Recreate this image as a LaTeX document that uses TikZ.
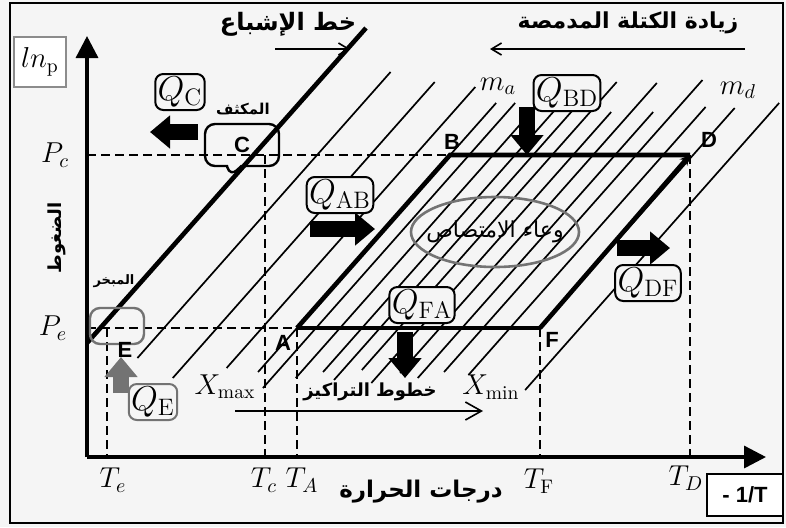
\documentclass[tikz,border=0pt]{standalone}
\usepackage{fontspec}
\setsansfont{Liberation Sans}
\newfontfamily\arabicfont[Script=Arabic]{DejaVu Sans}
\TeXXeTstate=1
\usetikzlibrary{arrows.meta,shapes.callouts}

\begin{document}
\begin{tikzpicture}[x=0.5pt,y=-0.5pt,>=Stealth,
  conc/.style={line width=0.85pt},
  cyc/.style={line width=2.3pt},
  guide/.style={line width=1.2pt,dash pattern=on 4.5pt off 2.5pt},
  ax/.style={line width=1.7pt,-{Triangle[length=11pt,width=11pt]}},
  hint/.style={line width=0.8pt,-{Straight Barb[length=5pt,width=6pt]}},
  fat/.style={line width=8pt,-{Triangle[length=10pt,width=16pt]}},
  qbox/.style={draw,line width=1pt,rounded corners=4pt,fill=black!4,inner sep=1.2pt,minimum height=18pt,font=\fontsize{17}{18}\selectfont},
  pnt/.style={font=\sffamily\bfseries\fontsize{11}{12}\selectfont,inner sep=0pt},
  tlab/.style={font=\fontsize{14}{16}\selectfont,inner sep=0pt},
  arab/.style={inner sep=0pt,font=\arabicfont\bfseries\fontsize{#1}{#1}\selectfont}]
\fill[black!4] (0,0) rectangle (786,527);
\useasboundingbox (0,0) rectangle (786,527);
\draw[line width=1.3pt] (10,3) rectangle (783,523);

\coordinate (O) at (87,457);
\coordinate (Ytop) at (87,36);
\coordinate (Xend) at (766,457);
\coordinate (Pc) at (87,155);
\coordinate (Pe) at (87,328);
\coordinate (Te) at (107,457);
\coordinate (Tc) at (265,457);
\coordinate (A) at (297,328);
\coordinate (B) at (450,155);
\coordinate (D) at (690,155);
\coordinate (F) at (540,328);
\coordinate (S0) at (87,343);
\coordinate (S1) at (366,28);

\foreach \x/\b/\t in {164/358/72, 217/378/82, 262/368/87, 297/372/103, 316/388/103,
  340/378/98, 362/372/100, 380/380/100, 399/370/82, 420/383/112, 440/373/83,
  462/378/112, 483/372/80, 510/375/107, 540/328/108, 580/390/103}
  \draw[conc] ({\x+(328-\b)/1.13},\b) -- ({\x+(328-\t)/1.13},\t);

\draw[cyc] (S0) -- (S1);
\draw[guide] (Pc) -- (B);
\draw[guide] (Pe) -- (A);
\draw[guide] (Te |- Pe) -- (Te);
\draw[guide] (Tc |- Pc) -- (Tc);
\draw[guide] (A) -- (A |- O);
\draw[guide] (F) -- (F |- O);
\draw[guide] (D) -- (D |- O);
\draw[cyc] (A) -- (B) -- (D);
\draw[cyc] (A) -- (F);
\draw[cyc,-{Stealth[length=5pt,width=5pt]}] (F) -- (D);
\draw[ax] (O) -- (Ytop);
\draw[ax] (O) -- (Xend);

\node[inner sep=0pt,font=\arabicfont\fontsize{11}{11}\selectfont] (vessel) at (495,232) {\beginR وعاء الامتصاص\endR};
\draw[black!55,line width=1.3pt] (vessel.center) ellipse [x radius=84, y radius=35];

\node[qbox] (qc) at (180,92) {$Q_{\mathrm{C}}$};
\node[qbox] (qab) at (340,195) {$Q_{\mathrm{AB}}$};
\node[qbox] (qbd) at (567,93) {$Q_{\mathrm{BD}}$};
\node[qbox] (qfa) at (422,305) {$Q_{\mathrm{FA}}$};
\node[qbox] (qdf) at (648,283) {$Q_{\mathrm{DF}}$};
\node[qbox,draw=black!55] (qe) at (153,402) {$Q_{\mathrm{E}}$};
\draw[fat] ([shift={(18,40)}]qc.center) -- ++(-48,0);
\draw[fat] ([shift={(-30,34)}]qab.center) -- ++(65,0);
\draw[fat] ([shift={(-40,14)}]qbd.center) -- ++(0,48);
\draw[fat] ([shift={(-17,27)}]qfa.center) -- ++(0,46);
\draw[fat] ([shift={(-31,-35)}]qdf.center) -- ++(53,0);
\draw[fat,black!55] ([shift={(-32,-9)}]qe.center) -- ++(0,-36);

\node[draw,line width=1.2pt,rectangle callout,rounded corners=5pt,callout absolute pointer={(230,177)},minimum width=37pt,minimum height=21pt,pnt] (cbox) at (242,145) {C};
\node[draw=black!55,line width=1.2pt,rounded corners=5pt,minimum width=27pt,minimum height=18pt] (ebox) at (117,326) {};
\node[pnt] (lA) at (283,343) {A};
\node[pnt] (lB) at (452,142) {B};
\node[pnt] (lD) at (709,140) {D};
\node[pnt] (lF) at (552,340) {F};
\node[pnt] (lE) at (125,350) {E};

\node[draw=black!45,line width=1pt,fill=white,minimum width=26pt,minimum height=25pt,tlab,inner sep=1pt] (lnp) at (40,62) {$ln_{\mathrm{p}}$};
\node[draw,line width=1pt,fill=white,minimum width=38pt,minimum height=21pt,pnt] (inv) at (745,495) {- 1/T};
\node[tlab] (lPc) at (55,155) {$P_c$};
\node[tlab] (lPe) at (53,328) {$P_e$};
\node[tlab] (lTe) at (113,480) {$T_e$};
\node[tlab] (lTc) at (264,480) {$T_c$};
\node[tlab] (lTA) at (302,480) {$T_A$};
\node[tlab] (lTF) at (539,481) {$T_{\mathrm{F}}$};
\node[tlab] (lTD) at (686,478) {$T_D$};
\node[tlab] (lXmax) at (225,387) {$X_{\mathrm{max}}$};
\node[tlab] (lXmin) at (491,387) {$X_{\mathrm{min}}$};
\node[tlab] (lma) at (498,86) {$m_a$};
\node[tlab] (lmd) at (738,90) {$m_d$};

\node[arab=12] (sat) at (288,24) {\beginR خط الإشباع\endR};
\draw[hint] ([shift={(-13,25)}]sat.center) -- ++(75,0);
\node[arab=11] (mass) at (628,23) {\beginR زيادة الكتلة المدمصة\endR};
\draw[hint] ([shift={(117,26)}]mass.center) -- ++(-255,0);
\node[arab=7.5] (cond) at (243,109) {\beginR المكثف\endR};
\node[arab=6.5] (evap) at (114,281) {\beginR المبخر\endR};
\node[arab=9,rotate=90] (press) at (57,238) {\beginR الضغوط\endR};
\node[arab=11.5] (temp) at (421,492) {\beginR درجات الحرارة\endR};
\node[arab=9] (conclines) at (370,392) {\beginR خطوط التراكيز\endR};
\draw[line width=0.8pt,-{Straight Barb[length=8pt,width=9pt]}] ([shift={(-135,19)}]conclines.center) -- ++(248,0);
\end{tikzpicture}
\end{document}
